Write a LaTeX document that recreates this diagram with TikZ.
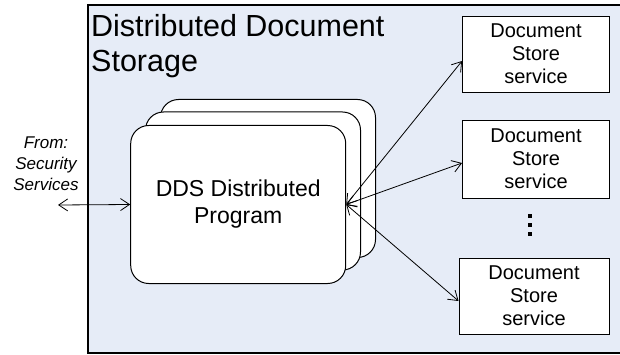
\documentclass[tikz,border=0pt]{standalone}
\usepackage{fontspec}
\setmainfont{Liberation Sans}
\usetikzlibrary{arrows.meta,calc}
\definecolor{panel}{RGB}{230,236,247}
\begin{document}
\begin{tikzpicture}[x=1pt,y=-1pt,
  prog/.style={draw=black,fill=white,line width=1pt,rounded corners=18pt,minimum width=215pt,minimum height=158pt,inner sep=0pt},
  store/.style={draw=black,fill=white,line width=0.9pt,minimum width=147pt,minimum height=76pt,inner sep=0pt,align=center,font=\fontsize{20}{23}\selectfont},
  link/.style={line width=0.8pt,{Straight Barb[length=9pt,width=12pt]}-{Straight Barb[length=9pt,width=12pt]}}
]
\useasboundingbox (0,0) rectangle (620,355);
\clip (0,0) rectangle (620,355);
% container
\draw[fill=panel,line width=1.2pt] (88,5) rectangle (640,353);
\node[anchor=base west,inner sep=0pt,align=left,font=\fontsize{30.5}{35}\selectfont] (title) at (91,72) {Distributed Document\\Storage};
% stacked program boxes
\node[prog] (back) at (268,178.5) {};
\node[prog] (mid) at (253,191) {};
\node[prog,align=center,font=\fontsize{23}{27}\selectfont] (front) at (238.2,204.5) {DDS Distributed\\Program};
% document stores
\node[store] (d1) at (536,54) {Document\\Store\\service};
\node[store,minimum height=78pt] (d2) at (536,159) {Document\\Store\\service};
\node[store,minimum width=150pt] (d3) at (534,296) {Document\\Store\\service};
% dots
\foreach \yy in {216,225,234} \fill (528,\yy-2) rectangle (532.3,\yy+2);
% source
\node[align=center,inner sep=0pt,font=\fontsize{17}{21}\selectfont\itshape] (src) at (46,164) {From:\\Security\\Services};
\coordinate (srcend) at (58,205);
% connectors
\draw[link] (srcend) -- (front.west);
\draw[link] (front.east) -- ([yshift=-7pt]d1.west);
\draw[link] (front.east) -- ([yshift=-4pt]d2.west);
\draw[link] (front.east) -- ([yshift=-5pt]d3.west);
\end{tikzpicture}
\end{document}
